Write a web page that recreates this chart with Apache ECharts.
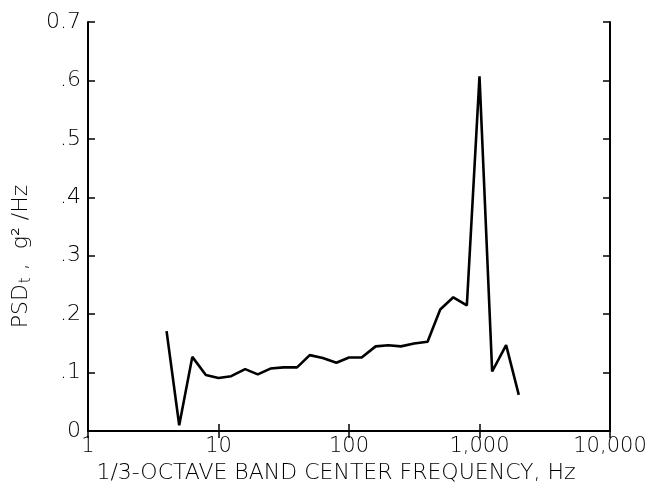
<!DOCTYPE html>
<html>
<head>
<meta charset="utf-8">
<script src="https://cdn.jsdelivr.net/npm/echarts@6/dist/echarts.min.js"></script>
<style>html,body{margin:0;padding:0;background:#fff}#c{width:661px;height:489px}</style>
</head>
<body>
<div id="c"></div>
<script>
var freqs = [4, 5, 6.3, 8, 10, 12.5, 16, 20, 25, 31.5, 40, 50, 63, 80, 100, 125, 160, 200, 250, 315, 400, 500, 630, 800, 1000, 1250, 1600, 2000];
var psd = [0.171, 0.010, 0.127, 0.096, 0.091, 0.094, 0.106, 0.097, 0.107, 0.109, 0.109, 0.130, 0.125, 0.117, 0.126, 0.126, 0.145, 0.147, 0.145, 0.150, 0.153, 0.208, 0.229, 0.215, 0.607, 0.102, 0.147, 0.062];
var yTickLabels = {"0": "0", "0.1": ".1", "0.2": ".2", "0.3": ".3", "0.4": ".4", "0.5": ".5", "0.6": ".6", "0.7": "0.7"};
var xTickLabels = {"1": "1", "10": "10", "100": "100", "1000": "1,000", "10000": "10,000"};

var font = "DejaVu Sans";
var fw = 200;
var chart = echarts.init(document.getElementById('c'));
var axisLine = {show: true, lineStyle: {color: '#000', width: 2}};
var tick = {show: true, inside: true, length: 7, lineStyle: {color: '#000', width: 1.5}};
chart.setOption({
  backgroundColor: '#fff',
  animation: false,
  grid: {left: 88, right: 51, top: 22, bottom: 57},
  xAxis: [{
    type: 'log', min: 1, max: 10000, logBase: 10, position: 'bottom',
    axisLine: axisLine, axisTick: tick, splitLine: {show: false},
    axisLabel: {color: '#000', fontFamily: font, fontWeight: fw, fontSize: 21, margin: 5,
      formatter: function (v) { return xTickLabels[String(Math.round(v))] || ''; }},
    name: '1/3-OCTAVE BAND CENTER FREQUENCY, Hz', nameLocation: 'middle', nameGap: 29,
    nameTextStyle: {color: '#000', fontFamily: font, fontWeight: fw, fontSize: 22, padding: [0, 26, 0, 0]}
  }, {
    type: 'log', min: 1, max: 10000, logBase: 10, position: 'top',
    axisLine: axisLine, axisTick: tick,
    axisLabel: {show: false}, splitLine: {show: false}
  }],
  yAxis: [{
    type: 'value', min: 0, max: 0.7, interval: 0.1, position: 'left',
    axisLine: axisLine, axisTick: tick, splitLine: {show: false},
    axisLabel: {color: '#000', fontFamily: font, fontWeight: fw, fontSize: 22, margin: 7,
      formatter: function (v) { return yTickLabels[String(Math.round(v * 10) / 10)]; }},
    name: '{a|PSD}{s|t}{a| ,  g² /Hz}', nameLocation: 'middle', nameGap: 54,
    nameTextStyle: {padding: [0, 60, 0, 0], rich: {
      a: {color: '#000', fontFamily: font, fontWeight: fw, fontSize: 22},
      s: {color: '#000', fontFamily: font, fontWeight: fw, fontSize: 15, verticalAlign: 'bottom', padding: [10, 0, 0, 1]}
    }}
  }, {
    type: 'value', min: 0, max: 0.7, interval: 0.1, position: 'right',
    axisLine: axisLine, axisTick: tick,
    axisLabel: {show: false}, splitLine: {show: false}
  }],
  series: [{
    type: 'line',
    xAxisIndex: 0, yAxisIndex: 0,
    data: freqs.map(function (f, i) { return [f, psd[i]]; }),
    symbol: 'none',
    lineStyle: {color: '#000', width: 2.6},
    z: 5
  }]
});
</script>
</body>
</html>
